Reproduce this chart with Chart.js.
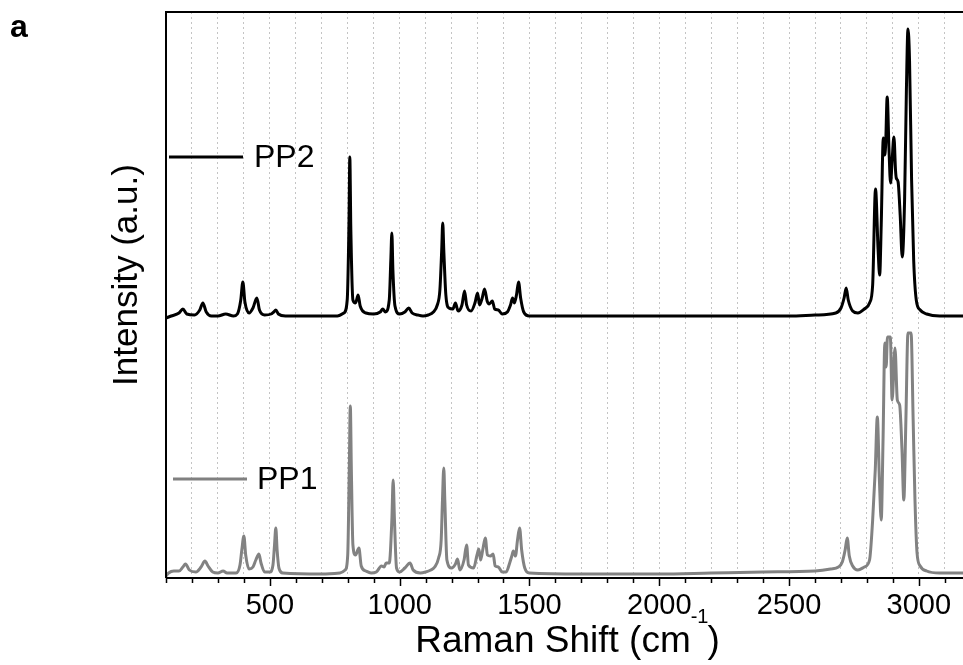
<!DOCTYPE html>
<html lang="en">
<head>
<meta charset="UTF-8">
<title>Raman spectra PP1 / PP2</title>
<script src="https://cdn.jsdelivr.net/npm/chart.js"></script>
<style>
    body { margin: 0; background: #fff; }
    canvas { display: block; }
</style>
</head>
<body>
<canvas id="myChart" width="963" height="665"></canvas>
<script>
// Raman shift (cm-1) and intensity (a.u.)
const pp2Shift = [100,120,150,165,180,210,230,242,255,275,300,330,360,375,388,396,404,420,435,450,460,480,505,515,523,533,560,760,785,798,805,808,812,820,830,840,848,870,900,925,935,945,960,966,970,974,982,1000,1020,1035,1048,1070,1090,1110,1130,1145,1155,1162,1166,1170,1178,1190,1205,1215,1225,1240,1250,1258,1275,1290,1300,1308,1318,1327,1337,1345,1357,1366,1380,1395,1415,1427,1435,1442,1450,1458,1466,1478,1500,2200,2500,2600,2680,2700,2712,2720,2728,2745,2765,2790,2810,2822,2833,2843,2849,2855,2863,2868,2872,2878,2885,2891,2897,2904,2910,2913,2920,2928,2936,2945,2952,2958,2964,2972,2980,2990,3005,3030,3080,3170];
const pp2Intensity = [-2,0,3,7,2,1,6,13,4,0,0,2,0,2,16,34,14,3,8,18,6,1,2,4,6,2,0,0,3,16,96,159,86,16,13,21,10,3,2,4,7,4,16,56,83,46,10,2,4,8,3,1,0,1,4,11,26,66,93,66,21,8,7,13,5,11,25,11,5,13,23,11,18,27,15,12,15,7,6,2,4,11,18,13,21,34,18,4,0,0,0,1,3,8,18,28,16,5,3,7,13,31,127,66,41,91,178,161,171,219,166,133,156,179,146,138,134,101,59,116,226,287,256,136,56,16,6,2,0,0];

const pp1Shift = [100,110,130,150,165,175,190,215,235,250,262,280,300,320,335,370,385,392,400,407,420,435,446,458,466,480,500,512,518,523,528,535,550,700,770,790,800,806,810,814,820,830,843,852,870,890,910,930,940,948,960,970,975,980,988,1000,1020,1040,1052,1080,1100,1120,1135,1150,1160,1165,1170,1174,1182,1200,1215,1223,1232,1248,1258,1265,1285,1298,1305,1312,1320,1330,1338,1350,1360,1368,1380,1395,1410,1425,1432,1438,1446,1454,1462,1470,1482,1500,1700,2000,2200,2400,2600,2660,2690,2705,2716,2724,2732,2745,2765,2790,2810,2822,2832,2840,2848,2855,2862,2869,2874,2879,2890,2897,2908,2917,2926,2935,2942,2950,2958,2970,2978,2985,2993,3005,3030,3080,3170];
const pp1Intensity = [2,5,7,7,11,14,8,6,11,17,12,6,5,7,5,5,13,28,42,23,9,11,18,24,15,6,6,13,33,50,28,10,5,4,5,8,23,108,172,108,33,23,30,12,7,5,6,12,11,15,15,58,98,58,10,6,10,15,8,5,6,8,11,20,38,78,110,78,18,10,14,19,8,18,33,13,10,23,29,18,28,40,23,22,24,12,11,6,6,16,22,27,22,38,50,28,10,5,4,4,5,6,7,9,11,16,28,40,22,12,8,11,18,58,108,161,98,58,138,235,211,241,241,178,230,178,173,128,78,158,245,245,158,78,25,12,7,5,5];

// vertical stacking offset of the PP2 trace
const pp2Offset = 262;

const seriesNames = ['PP1', 'PP2'];
const majorTicks = [500, 1000, 1500, 2000, 2500, 3000];

const FONT = "'Liberation Sans', Arial, sans-serif";

function toPoints(xs, ys, offset) {
    return xs.map((x, i) => ({ x: x, y: ys[i] + offset }));
}

const decorations = {
    id: 'decorations',
    afterDraw(chart) {
        const ctx = chart.ctx;
        const area = chart.chartArea;
        const xs = chart.scales.x;
        ctx.save();

        // axis frame (left, top, bottom)
        ctx.strokeStyle = '#000';
        ctx.lineWidth = 2;
        ctx.beginPath();
        ctx.moveTo(area.left, area.bottom);
        ctx.lineTo(area.left, area.top);
        ctx.lineTo(area.right, area.top);
        ctx.moveTo(area.left, area.bottom);
        ctx.lineTo(area.right, area.bottom);
        ctx.stroke();

        // tick marks every 100 cm-1, longer at labelled ones
        ctx.lineWidth = 1.5;
        ctx.beginPath();
        for (let v = 100; v <= xs.max; v += 100) {
            const px = Math.round(xs.getPixelForValue(v)) + 0.5;
            const len = majorTicks.includes(v) ? 8 : 5;
            ctx.moveTo(px, area.bottom);
            ctx.lineTo(px, area.bottom + len);
        }
        ctx.stroke();

        // panel letter
        ctx.fillStyle = '#000';
        ctx.font = 'bold 32px ' + FONT;
        ctx.textAlign = 'left';
        ctx.textBaseline = 'alphabetic';
        ctx.fillText('a', 10, 37);

        // y title
        ctx.save();
        ctx.translate(137, 275);
        ctx.rotate(-Math.PI / 2);
        ctx.font = '35px ' + FONT;
        ctx.textAlign = 'center';
        ctx.textBaseline = 'alphabetic';
        ctx.fillText('Intensity (a.u.)', 0, 0);
        ctx.restore();

        // x title with superscript
        const main = 'Raman Shift (cm';
        const sup = '-1';
        const tail = ')';
        ctx.font = '37px ' + FONT;
        const wMain = ctx.measureText(main).width;
        const wTail = ctx.measureText(tail).width;
        ctx.font = '20px ' + FONT;
        const wSup = ctx.measureText(sup).width;
        let x0 = 568 - (wMain + wSup + wTail) / 2;
        const base = 652;
        ctx.textAlign = 'left';
        ctx.font = '37px ' + FONT;
        ctx.fillText(main, x0, base);
        ctx.font = '20px ' + FONT;
        ctx.fillText(sup, x0 + wMain, base - 29);
        ctx.font = '37px ' + FONT;
        ctx.fillText(tail, x0 + wMain + wSup - 1, base);

        // in-plot legend labels
        const legend = [
            { name: seriesNames[1], color: '#000000', y: 157, x1: 169, x2: 243, tx: 254 },
            { name: seriesNames[0], color: '#808080', y: 479, x1: 173, x2: 247, tx: 257 }
        ];
        legend.forEach(l => {
            ctx.strokeStyle = l.color;
            ctx.lineWidth = 3;
            ctx.beginPath();
            ctx.moveTo(l.x1, l.y);
            ctx.lineTo(l.x2, l.y);
            ctx.stroke();
            ctx.fillStyle = '#000';
            ctx.font = '32px ' + FONT;
            ctx.textBaseline = 'middle';
            ctx.fillText(l.name, l.tx, l.y + 1);
        });

        ctx.restore();
    }
};

const ctx = document.getElementById('myChart').getContext('2d');
const myChart = new Chart(ctx, {
    type: 'line',
    data: {
        datasets: [
            {
                label: seriesNames[0],
                data: toPoints(pp1Shift, pp1Intensity, 0),
                borderColor: '#828282',
                borderWidth: 3,
                pointRadius: 0,
                cubicInterpolationMode: 'monotone'
            },
            {
                label: seriesNames[1],
                data: toPoints(pp2Shift, pp2Intensity, pp2Offset),
                borderColor: '#000000',
                borderWidth: 3,
                pointRadius: 0,
                cubicInterpolationMode: 'monotone'
            }
        ]
    },
    options: {
        responsive: false,
        animation: false,
        clip: false,
        layout: { padding: { top: 12, right: 0, left: 0, bottom: 0 } },
        plugins: {
            legend: { display: false },
            tooltip: { enabled: false }
        },
        scales: {
            x: {
                type: 'linear',
                min: 100,
                max: 3170,
                afterFit: scale => { scale.height = 87; },
                border: { display: false, dash: [2, 3] },
                grid: {
                    color: '#c4c4c4',
                    lineWidth: 1,
                    drawTicks: false
                },
                ticks: {
                    stepSize: 100,
                    includeBounds: false,
                    autoSkip: false,
                    maxRotation: 0,
                    padding: 11,
                    color: '#000',
                    font: { family: FONT, size: 29 },
                    callback: v => majorTicks.includes(v) ? String(v) : ''
                }
            },
            y: {
                min: 0,
                max: 566,
                afterFit: scale => { scale.width = 166; },
                border: { display: false },
                grid: { display: false },
                ticks: { display: false }
            }
        }
    },
    plugins: [decorations]
});
</script>
</body>
</html>
